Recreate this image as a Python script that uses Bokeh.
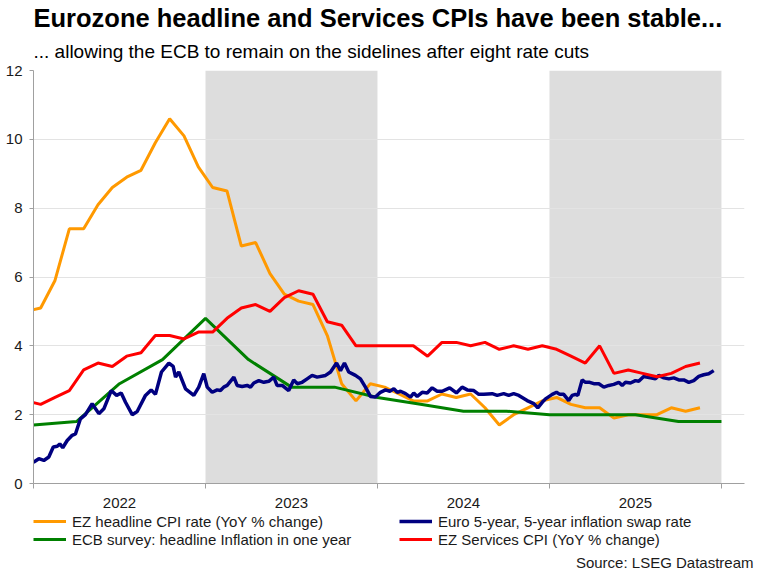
from bokeh.plotting import figure
from bokeh.layouts import column
from bokeh.models import Legend, LegendItem, BoxAnnotation, FixedTicker, Range1d, Label, Title
from bokeh.embed import file_html
from bokeh.resources import INLINE

FONT = "Liberation Sans"

# ---------------- data ----------------
years = [2022, 2023, 2024, 2025]
shaded_years = [2023, 2025]

# monthly series, Dec 2021 .. Nov 2025
month_start = (2021, 12)
headline_cpi = [5.0,
                5.1, 5.9, 7.4, 7.4, 8.1, 8.6, 8.9, 9.1, 9.9, 10.6, 10.1, 9.2,
                8.6, 8.5, 6.9, 7.0, 6.1, 5.5, 5.3, 5.2, 4.3, 2.9, 2.4, 2.9,
                2.8, 2.6, 2.4, 2.4, 2.6, 2.5, 2.6, 2.2, 1.7, 2.0, 2.2, 2.4,
                2.5, 2.3, 2.2, 2.2, 1.9, 2.0, 2.0, 2.0, 2.2, 2.1, 2.2]
services_cpi = [2.4,
                2.3, 2.5, 2.7, 3.3, 3.5, 3.4, 3.7, 3.8, 4.3, 4.3, 4.2, 4.4,
                4.4, 4.8, 5.1, 5.2, 5.0, 5.4, 5.6, 5.5, 4.7, 4.6, 4.0, 4.0,
                4.0, 4.0, 4.0, 3.7, 4.1, 4.1, 4.0, 4.1, 3.9, 4.0, 3.9, 4.0,
                3.9, 3.7, 3.5, 4.0, 3.2, 3.3, 3.2, 3.1, 3.2, 3.4, 3.5]

# quarterly ECB survey, Q1 2022 .. Q1 2026
survey_start = 2022
ecb_survey = [1.7, 1.8, 2.9, 3.6, 4.8, 3.6, 2.8, 2.8, 2.5, 2.3, 2.1, 2.1,
              2.0, 2.0, 2.0, 1.8, 1.8]

# Euro 5y5y inflation swap (decimal year, rate)
swap_t = [2022.000, 2022.031, 2022.060, 2022.089, 2022.115, 2022.138, 2022.153, 2022.170,
          2022.196, 2022.225, 2022.244, 2022.273, 2022.302, 2022.341, 2022.380, 2022.409,
          2022.452, 2022.483, 2022.510, 2022.535, 2022.574, 2022.603, 2022.651, 2022.684,
          2022.709, 2022.744, 2022.787, 2022.812, 2022.826, 2022.845, 2022.884, 2022.932,
          2022.961, 2022.990, 2023.010, 2023.039, 2023.068, 2023.087, 2023.106, 2023.126,
          2023.165, 2023.184, 2023.213, 2023.242, 2023.262, 2023.281, 2023.310, 2023.339,
          2023.368, 2023.397, 2023.416, 2023.446, 2023.484, 2023.513, 2023.533, 2023.562,
          2023.591, 2023.620, 2023.649, 2023.698, 2023.727, 2023.762, 2023.785, 2023.808,
          2023.833, 2023.872, 2023.901, 2023.930, 2023.959, 2023.988, 2024.017, 2024.047,
          2024.072, 2024.095, 2024.115, 2024.134, 2024.163, 2024.192, 2024.211, 2024.231,
          2024.260, 2024.289, 2024.318, 2024.347, 2024.376, 2024.420, 2024.459, 2024.492,
          2024.522, 2024.560, 2024.589, 2024.618, 2024.667, 2024.696, 2024.734, 2024.763,
          2024.792, 2024.822, 2024.870, 2024.909, 2024.932, 2024.958, 2024.977, 2025.016,
          2025.041, 2025.060, 2025.083, 2025.112, 2025.132, 2025.151, 2025.165, 2025.190,
          2025.209, 2025.234, 2025.258, 2025.287, 2025.316, 2025.345, 2025.374, 2025.403,
          2025.423, 2025.442, 2025.471, 2025.500, 2025.519, 2025.548, 2025.587, 2025.616,
          2025.635, 2025.665, 2025.694, 2025.723, 2025.752, 2025.781, 2025.810, 2025.839,
          2025.868, 2025.897, 2025.926, 2025.955]
swap_v = [0.62, 0.72, 0.67, 0.77, 1.06, 1.08, 1.15, 1.04,
          1.25, 1.40, 1.44, 1.88, 2.00, 2.32, 2.03, 2.17,
          2.70, 2.56, 2.63, 2.36, 2.00, 2.09, 2.56, 2.72,
          2.59, 3.24, 3.50, 3.40, 3.09, 3.24, 2.75, 2.56,
          2.80, 3.19, 2.80, 2.65, 2.72, 2.70, 2.80, 2.85,
          3.09, 2.85, 2.82, 2.85, 2.80, 2.92, 2.99, 2.94,
          2.97, 3.09, 2.85, 2.85, 2.70, 3.01, 2.90, 2.94,
          3.04, 3.14, 3.09, 3.14, 3.24, 3.50, 3.28, 3.50,
          3.24, 3.14, 3.04, 2.80, 2.53, 2.51, 2.65, 2.72,
          2.68, 2.75, 2.65, 2.68, 2.61, 2.51, 2.63, 2.53,
          2.65, 2.63, 2.78, 2.68, 2.68, 2.78, 2.63, 2.80,
          2.72, 2.70, 2.59, 2.59, 2.61, 2.56, 2.61, 2.56,
          2.61, 2.56, 2.41, 2.32, 2.20, 2.36, 2.46, 2.59,
          2.65, 2.59, 2.59, 2.41, 2.56, 2.59, 2.56, 3.01,
          2.94, 2.94, 2.90, 2.90, 2.80, 2.85, 2.88, 2.94,
          2.85, 2.94, 2.92, 2.99, 2.97, 3.11, 3.07, 3.04,
          3.14, 3.07, 3.04, 3.07, 3.01, 3.01, 2.94, 2.99,
          3.11, 3.16, 3.19, 3.28]

labels = ["EZ headline CPI rate (YoY % change)",
          "Euro 5-year, 5-year inflation swap rate",
          "ECB survey: headline Inflation in one year",
          "EZ Services CPI (YoY % change)"]
colors = ["#FF9900", "#000080", "#008000", "#FF0000"]
widths = [3, 3.5, 3, 3]

title_text = "Eurozone headline and Services CPIs have been stable..."
subtitle_text = "... allowing the ECB to remain on the sidelines after eight rate cuts"
source_text = "Source: LSEG Datastream"

# ---------------- derived x positions ----------------
y0, m0 = month_start
month_t = [y0 + (m0 - 1 + i + 0.5) / 12.0 for i in range(len(headline_cpi))]
survey_t = [survey_start + i / 4.0 for i in range(len(ecb_survey))]

W = 756
FL, FR = 33, 744          # frame left / right in page pixels (shared by column alignment)
TH, MH, LH = 63, 449, 58  # heights of the title strip, chart, legend strip


def blank_fig(h, top):
    # data coordinates of this strip = page pixels (y downwards)
    f = figure(width=W, height=h, x_range=Range1d(FL, FR), y_range=Range1d(top + h, top),
               x_axis_type=None, y_axis_type=None,
               min_border_left=FL, min_border_right=W - FR, min_border_top=0, min_border_bottom=0,
               output_backend="svg", toolbar_location=None)
    f.outline_line_color = None
    f.background_fill_color = "white"
    f.border_fill_color = "white"
    f.grid.visible = False
    return f


# ---------------- title strip ----------------
ft = blank_fig(TH, 0)
ft.add_layout(Label(x=FL, y=26.7 - 0.35 * 25.5, text=title_text, text_font=FONT,
                    text_font_style="bold", text_font_size="25.5px", text_color="#000000",
                    text_baseline="middle", text_align="left"))
ft.add_layout(Label(x=FL, y=57.3 - 0.35 * 19, text=subtitle_text, text_font=FONT,
                    text_font_size="19px", text_color="#000000",
                    text_baseline="middle", text_align="left"))

# ---------------- main chart ----------------
p = figure(width=W, height=MH,
           min_border_left=FL, min_border_right=W - FR,
           min_border_top=7, min_border_bottom=29,
           x_range=Range1d(2022.0, 2026.134), y_range=Range1d(0, 12),
           output_backend="svg", toolbar_location=None)
p.outline_line_color = None
p.background_fill_color = "white"
p.border_fill_color = "white"

for yr in shaded_years:
    p.add_layout(BoxAnnotation(left=yr, right=yr + 1, fill_color="#DDDDDD",
                               fill_alpha=1.0, line_color=None, level="image"))

p.xgrid.visible = False
p.ygrid.grid_line_color = "#E3E3E3"
p.ygrid.grid_line_width = 1

p.yaxis.ticker = FixedTicker(ticks=[0, 2, 4, 6, 8, 10, 12])
p.yaxis.axis_line_color = "#A0A0A0"
p.yaxis.major_tick_line_color = "#A0A0A0"
p.yaxis.major_tick_out = 4
p.yaxis.major_tick_in = 0
p.yaxis.minor_tick_line_color = None
p.yaxis.major_label_standoff = 7
p.yaxis.major_label_text_font = FONT
p.yaxis.major_label_text_font_size = "15px"
p.yaxis.major_label_text_color = "#1a1a1a"

p.xaxis.ticker = FixedTicker(ticks=[y + 0.5 for y in years],
                             minor_ticks=[y for y in years] + [years[-1] + 1])
p.xaxis.major_label_overrides = {y + 0.5: str(y) for y in years}
p.xaxis.axis_line_color = "#A0A0A0"
p.xaxis.major_tick_line_color = None
p.xaxis.major_tick_out = 0
p.xaxis.major_tick_in = 0
p.xaxis.minor_tick_line_color = "#A0A0A0"
p.xaxis.minor_tick_out = 5
p.xaxis.minor_tick_in = 0
p.xaxis.major_label_standoff = 9
p.xaxis.major_label_text_font = FONT
p.xaxis.major_label_text_font_size = "15px"
p.xaxis.major_label_text_color = "#1a1a1a"

p.line(month_t, headline_cpi, line_color=colors[0], line_width=widths[0])
p.line(survey_t, ecb_survey, line_color=colors[2], line_width=widths[2])
p.line(swap_t, swap_v, line_color=colors[1], line_width=widths[1])
p.line(month_t, services_cpi, line_color=colors[3], line_width=widths[3])

# ---------------- legend + source strip ----------------
fl = blank_fig(LH, TH + MH)
nan = float("nan")
proxies = [fl.line(x=[nan], y=[nan], line_color=c, line_width=w) for c, w in zip(colors, widths)]
legend = Legend(items=[LegendItem(label=lab, renderers=[r]) for lab, r in zip(labels, proxies)],
                ncols=2, location="top_left", orientation="horizontal",
                padding=2, spacing=0, margin=0,
                label_height=18, glyph_height=18, glyph_width=33,
                label_width=327, label_standoff=6, label_text_font=FONT,
                label_text_font_size="15px", label_text_color="#1a1a1a",
                border_line_color=None, background_fill_alpha=0.0)
fl.add_layout(legend)
fl.add_layout(Title(text=source_text, align="right", offset=-9, standoff=0,
                    text_font=FONT, text_font_size="15px", text_font_style="normal",
                    text_color="#1a1a1a"), "below")

layout = column(ft, p, fl, spacing=0)
open("out.html", "w").write(file_html(layout, INLINE))
